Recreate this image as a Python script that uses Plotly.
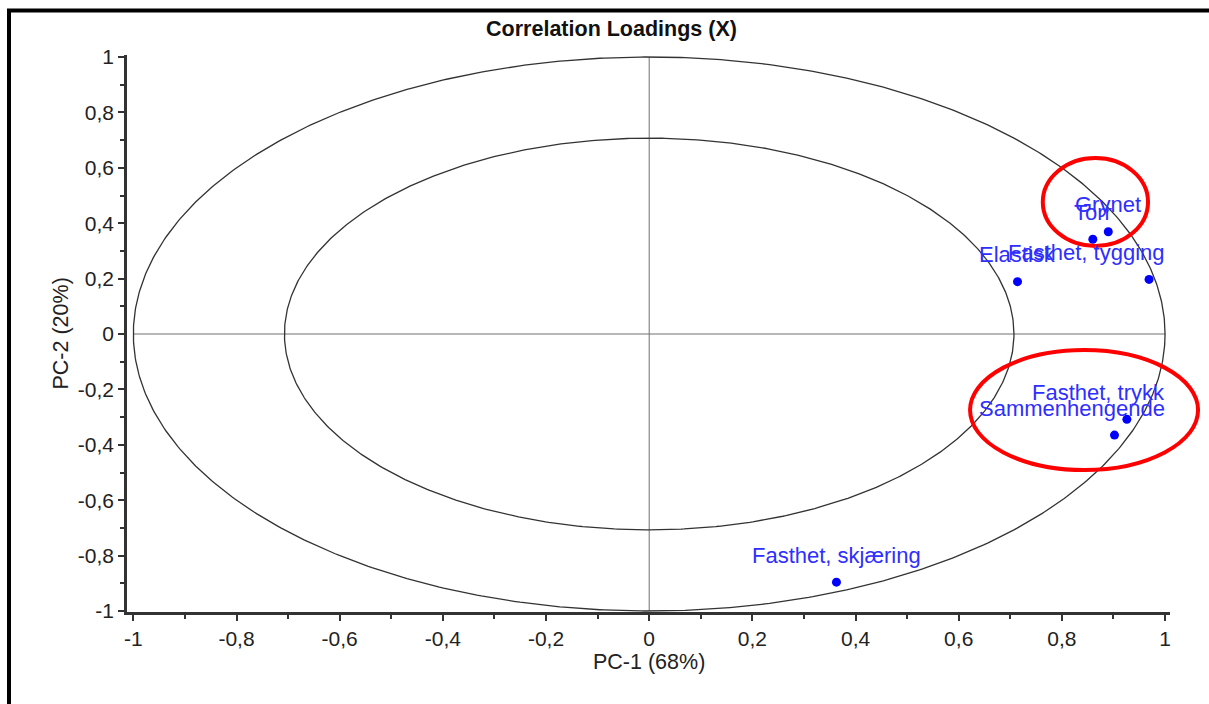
import numpy as np
import plotly.graph_objects as go

# Correlation loadings of the sensory attributes on PC-1 / PC-2
attributes = ["Grynet", "Torr", "Elastisk", "Fasthet, tygging",
              "Fasthet, trykk", "Sammenhengende", "Fasthet, skjæring"]
pc1 = [0.890, 0.860, 0.714, 0.969, 0.926, 0.902, 0.363]
pc2 = [0.369, 0.342, 0.189, 0.197, -0.308, -0.365, -0.896]

tick_values = [-1, -0.8, -0.6, -0.4, -0.2, 0, 0.2, 0.4, 0.6, 0.8, 1]
tick_labels = ["-1", "-0,8", "-0,6", "-0,4", "-0,2", "0", "0,2", "0,4", "0,6", "0,8", "1"]
minor_values = [-0.9, -0.7, -0.5, -0.3, -0.1, 0.1, 0.3, 0.5, 0.7, 0.9]

# groups of attributes that are ringed in red (data-space ellipse bounds)
highlights = [
    dict(x0=0.763, x1=0.967, y0=0.318, y1=0.635),    # Grynet / Torr
    dict(x0=0.622, x1=1.064, y0=-0.491, y1=-0.058),  # Fasthet, trykk / Sammenhengende
]

W, H = 1209, 704
M_L, M_R, M_T, M_B = 127, 39, 55, 92
PLOT_W, PLOT_H = W - M_L - M_R, H - M_T - M_B
X_RANGE = [-1.0123, 1.0096]
Y_RANGE = [-1.0036, 1.0072]

FONT = "Liberation Sans, Arial, sans-serif"
BLUE = "#0000FF"
LABEL_BLUE = "#2E2EFF"
AXIS_COL = "#333333"


def data_to_paper_x(v):
    return (v - X_RANGE[0]) / (X_RANGE[1] - X_RANGE[0])


def data_to_paper_y(v):
    return (v - Y_RANGE[0]) / (Y_RANGE[1] - Y_RANGE[0])


def px_to_paper_x(px):
    return (px - M_L) / PLOT_W


def px_to_paper_y(py):
    return (H - M_B - py) / PLOT_H


fig = go.Figure()

# 100 % and 50 % explained-variance circles
theta = np.linspace(0, 2 * np.pi, 721)
for r in (1.0, np.sqrt(0.5)):
    fig.add_trace(go.Scatter(
        x=r * np.cos(theta), y=r * np.sin(theta), mode="lines",
        line=dict(color=AXIS_COL, width=1.3), hoverinfo="skip", showlegend=False,
    ))

# cross through the origin
fig.add_shape(type="line", xref="x", yref="y", x0=0, x1=0, y0=-1, y1=1,
              line=dict(color="#707070", width=1), layer="below")
fig.add_shape(type="line", xref="x", yref="y", x0=-1, x1=1, y0=0, y1=0,
              line=dict(color="#707070", width=1), layer="below")

# loadings
fig.add_trace(go.Scatter(
    x=pc1, y=pc2, mode="markers", text=attributes,
    marker=dict(color=BLUE, size=9),
    hovertemplate="%{text}<br>PC-1: %{x}<br>PC-2: %{y}<extra></extra>",
    showlegend=False,
))

# labels above the points, pushed inside the plot at the right edge
LABEL_SIZE = 22
for name, x, y in zip(attributes, pc1, pc2):
    est_half = 0.25 * LABEL_SIZE * len(name)
    px = data_to_paper_x(x) * PLOT_W
    common = dict(text=name, yref="y", y=y, yanchor="middle", yshift=27,
                  showarrow=False, font=dict(family=FONT, size=LABEL_SIZE, color=LABEL_BLUE))
    if px + est_half > PLOT_W - 3:
        fig.add_annotation(xref="x domain", x=1, xanchor="right", xshift=-3, **common)
    else:
        fig.add_annotation(xref="x", x=x, xanchor="center", **common)

# red highlight rings
for h in highlights:
    fig.add_shape(type="circle", xref="paper", yref="paper",
                  x0=data_to_paper_x(h["x0"]), x1=data_to_paper_x(h["x1"]),
                  y0=data_to_paper_y(h["y0"]), y1=data_to_paper_y(h["y1"]),
                  line=dict(color="#FF0000", width=4), layer="above")

# window frame (top and left edges)
fig.add_shape(type="line", xref="paper", yref="paper",
              x0=px_to_paper_x(7), x1=px_to_paper_x(W + 5),
              y0=px_to_paper_y(10.5), y1=px_to_paper_y(10.5),
              line=dict(color="#000000", width=4))
fig.add_shape(type="line", xref="paper", yref="paper",
              x0=px_to_paper_x(9), x1=px_to_paper_x(9),
              y0=px_to_paper_y(9), y1=px_to_paper_y(H + 5),
              line=dict(color="#000000", width=4))

# axis titles
fig.add_annotation(text="PC-1 (68%)", xref="paper", yref="paper", x=0.5, y=0,
                   yanchor="middle", yshift=-50, showarrow=False,
                   font=dict(family=FONT, size=21.5, color="#222222"))
fig.add_annotation(text="PC-2 (20%)", xref="paper", yref="paper", x=0, y=0.5,
                   xanchor="center", yanchor="middle", xshift=-67, textangle=-90,
                   showarrow=False, font=dict(family=FONT, size=21.5, color="#222222"))

axis_common = dict(
    showgrid=False, zeroline=False, showline=True, linecolor=AXIS_COL, linewidth=2.5,
    ticks="outside", ticklen=6, tickwidth=2, tickcolor=AXIS_COL,
    tickmode="array", tickvals=tick_values, ticktext=tick_labels,
    tickfont=dict(family=FONT, size=21, color="#222222"),
    minor=dict(tickmode="array", tickvals=minor_values, ticks="outside",
               ticklen=4, tickwidth=2, tickcolor=AXIS_COL),
    fixedrange=True,
)

fig.update_layout(
    width=W, height=H,
    margin=dict(l=M_L, r=M_R, t=M_T, b=M_B),
    paper_bgcolor="white", plot_bgcolor="white",
    title=dict(text="<b>Correlation Loadings (X)</b>", xref="container", yref="container",
               x=611.5 / W, y=1 - 28 / H, xanchor="center", yanchor="middle",
               font=dict(family=FONT, size=21.5, color="#111111")),
    xaxis=dict(range=X_RANGE, **axis_common),
    yaxis=dict(range=Y_RANGE, **axis_common),
    showlegend=False,
)

fig.write_html("out.html")
